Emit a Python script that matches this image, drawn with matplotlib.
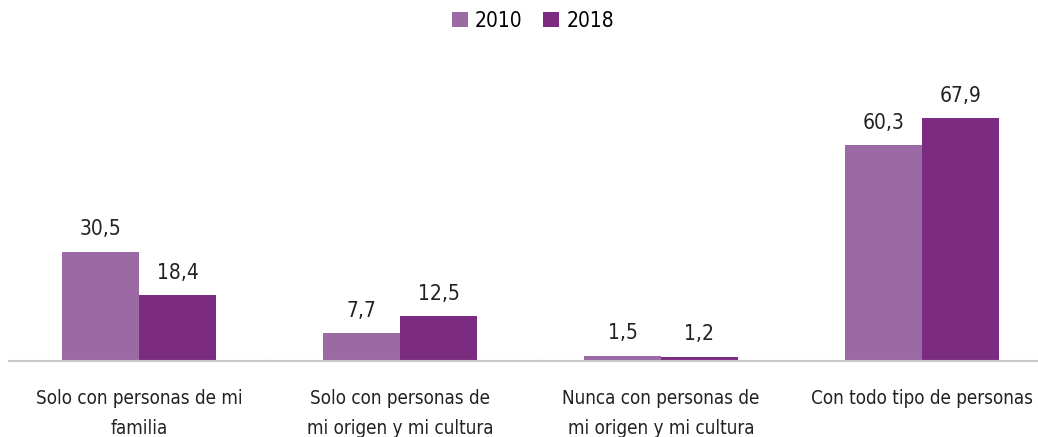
import matplotlib
matplotlib.use("Agg")
import matplotlib.pyplot as plt
import numpy as np
from matplotlib import font_manager

categories = ["Solo con personas de mi\nfamilia",
              "Solo con personas de\nmi origen y mi cultura",
              "Nunca con personas de\nmi origen y mi cultura",
              "Con todo tipo de personas"]
series_names = ["2010", "2018"]
values_2010 = [30.5, 7.7, 1.5, 60.3]
values_2018 = [18.4, 12.5, 1.2, 67.9]
colors = ["#9B69A3", "#7B2C80"]

names = {f.name for f in font_manager.fontManager.ttflist}
fam = ["Liberation Sans Narrow", "DejaVu Sans"] if "Liberation Sans Narrow" in names else ["DejaVu Sans"]
plt.rcParams["font.family"] = fam
if "Liberation Sans Narrow" not in names:
    plt.rcParams["font.stretch"] = "condensed"

W, H = 1038, 437
fig = plt.figure(figsize=(W / 100, H / 100), dpi=100)
left_px, base_px = 8.5, 361
ax = fig.add_axes([left_px / W, (H - base_px) / H, (W - left_px) / W, base_px / H - 75 / H])

x = np.arange(len(categories))
bw = 0.295
ax.set_xlim(-0.5, -0.5 + (W - left_px) / 261)
ymax = 67.9 * (base_px - 75) / 243
ax.set_ylim(0, ymax)

for i, (vals, c, name) in enumerate(zip([values_2010, values_2018], colors, series_names)):
    pos = x + (i - 0.5) * bw
    ax.bar(pos, vals, width=bw, color=c, label=name, zorder=2)
    for p, v in zip(pos, vals):
        ax.annotate(f"{v:.1f}".replace(".", ","), (p, v), xytext=(0, 9),
                    textcoords="offset points", ha="center", va="bottom",
                    fontsize=15, color="#222222")

for s in ["top", "right", "left"]:
    ax.spines[s].set_visible(False)
ax.spines["bottom"].set_color("#C8C8C8")
ax.spines["bottom"].set_linewidth(1.5)
ax.spines["bottom"].set_linestyle((0, (1, 0.5)))
ax.set_yticks([])
ax.set_xticks(x)
ax.set_xticklabels(categories, fontsize=13.5, color="#222222", linespacing=1.75)
ax.tick_params(axis="x", length=0, pad=20)

fig.legend(loc="center", bbox_to_anchor=(533 / W, 1 - 21 / H), ncol=2, frameon=False,
           fontsize=15, handlelength=0.75, handleheight=0.75, handletextpad=0.35,
           columnspacing=1.0, borderaxespad=0.2)

fig.savefig("out.png", dpi=100)
